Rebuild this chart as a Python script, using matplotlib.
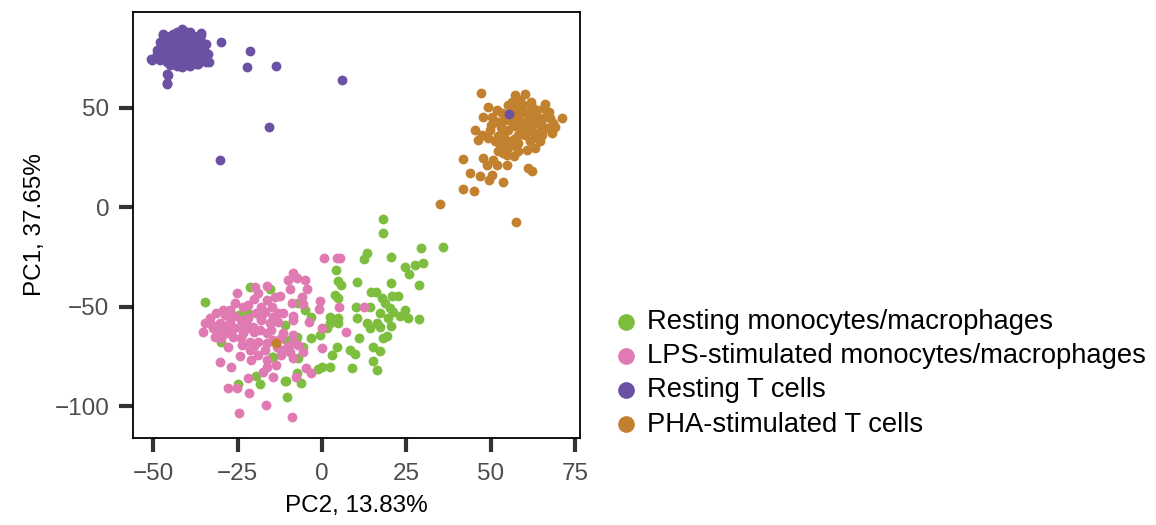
import matplotlib
matplotlib.use("Agg")
import matplotlib.pyplot as plt

plt.rcParams['font.family'] = ['Liberation Sans', 'DejaVu Sans']

# PCA coordinates (PC2 on x, PC1 on y)
rest_mono_x = [18.2, 18.2, 29.3, 35.8, 13.3, 12.5, 20.5, 24.6, 25.9, 27.6, 29.9, 28.8, 20.4, 4.1, 4.8, 5.8,
               10.5, 14.7, 16.0, 17.7, 18.7, 20.7, 22.7, 20.2, 21.2, 19.7, 23.3, 24.6, 25.6, 28.8, 17.2, 14.3,
               10.1, 10.5, 13.3, 14.3, 16.2, 17.2, 20.4, 3.9, 4.8, 2.4, 4.8, 2.4, 4.8, 1.6, -0.6, -3.3, 11.1,
               18.2, 19.2, 4.4, 3.1, 8.3, 9.8, 15.2, 17.2, 15.2, 16.4, 8.8, 2.4, -0.1, -1.1, -3.1, -5.0, -7.0,
               -7.5, -5.5, -7.0, -7.3, -11.0, -6.3, -11.0, -15.4, -14.9,
               -34.7, -21.4, -24.5, -21.9, -27.5, -29.8, -10.5, -14.4, -19.4, -18.4, -24.8, -10.7, -10.3]
rest_mono_y = [-6.2, -12.9, -20.8, -19.9, -23.3, -26.3, -25.0, -30.3, -33.7, -29.1, -28.3, -39.4, -38.0, -31.7,
               -37.0, -39.2, -37.5, -42.5, -42.5, -45.9, -48.4, -44.7, -44.7, -50.9, -52.6, -55.9, -54.8, -51.8,
               -55.9, -56.4, -53.4, -50.1, -50.1, -55.9, -58.5, -61.0, -58.5, -60.1, -59.6, -44.2, -45.9, -55.1,
               -55.9, -58.5, -58.5, -61.0, -64.3, -66.0, -66.0, -66.0, -64.8, -70.2, -74.4, -71.9, -73.9, -70.2,
               -72.2, -77.2, -81.9, -81.1, -80.6, -80.6, -81.6, -55.1, -51.8, -48.4, -65.5, -70.2, -76.0, -83.2,
               -87.3, -88.3, -59.3, -41.4, -75.2,
               -47.6, -40.0, -54.3, -53.4, -61.0, -67.7, -66.8, -75.5, -84.9, -88.9, -88.9, -87.3, -95.3]

lps_mono_x = [0.7, 4.4, 5.3, -8.7, -10.0, -7.5, -5.0, -9.3, -4.4, -12.5, -6.0, -0.6, -0.8, 5.1, 12.5, -9.0,
              -5.5, -11.5, -8.5, -3.8, -0.1, 7.1, -8.5, -11.5, -8.5, -7.0, -9.3, -5.5, -13.6, -4.6, -3.1, -7.7,
              -14.4, -8.5, -0.1, -12.0, -16.4, -17.4, -18.9, -21.4, -20.9, -24.3, -27.8, -30.3, -26.8, -21.9,
              -25.3, -27.8, -21.6, -16.6, -24.5, -9.0, -19.9, -16.4, -18.9, -16.4, -13.9, -14.9, -16.9, -12.9,
              -8.5, -14.4, -16.4, -18.4, -20.4, -22.4, -24.3, -27.3, -28.3, -26.3, -23.3, -21.4, -18.9, -25.3,
              -29.3, -31.3, -33.2, -34.7, -35.2, -32.2, -31.7, -29.8, -23.8, -17.9, -15.4, -19.4, -21.9, -25.8,
              -28.8, -30.3, -27.3, -23.3, -14.4, -16.4, -13.4, -12.0, -16.4,
              -26, -24, -22, -20, -18, -26, -24, -20, -17, -22, -20, -18, -15, -13, -29, -31, -33, -12, -10]
lps_mono_y = [-25.8, -25.8, -25.5, -33.0, -36.7, -35.8, -36.7, -41.4, -41.4, -44.7, -45.4, -47.1, -51.4, -50.4,
              -50.4, -48.4, -48.7, -53.4, -54.8, -57.6, -61.0, -62.6, -64.3, -63.1, -68.5, -69.3, -72.7, -72.7,
              -79.4, -81.1, -83.2, -85.6, -85.3, -76.0, -71.0, -71.9, -76.9, -82.7, -74.4, -71.9, -76.9, -74.9,
              -70.5, -77.7, -80.2, -86.1, -91.1, -91.1, -93.6, -99.5, -103.3, -105.7, -40.0, -39.7, -43.4, -46.7,
              -45.1, -50.1, -52.6, -53.4, -56.8, -66.8, -63.5, -61.8, -60.1, -58.5, -60.1, -57.6, -63.5, -65.2,
              -63.5, -67.7, -67.7, -43.4, -51.8, -53.4, -55.9, -58.5, -62.6, -61.0, -65.2, -66.0, -69.3, -55.9,
              -58.5, -53.4, -55.9, -48.4, -54.3, -58.5, -51.8, -50.1, -55.1, -68.5, -70.2, -74.4, -80.2,
              -55, -57, -61, -63, -57, -61, -66, -70, -72, -49, -46, -50, -62, -58, -60, -63, -59, -66, -70]

rest_t_x = [-29.9, -21.2, -22.3, -13.6, 6.0, -15.8, -30.1, -45.9, -45.9, -50.4, -47.2, -35.8, -33.6, -34.8,
            -47.1, -43.6, -41.6, -39.1, -37.6, -35.7, -34.2, -33.7, -34.2, -36.7, -39.6, -41.6, -45.1, -45.6,
            -45.8, -50.5, -48.5, -47.5, -44, -42, -40, -38, -46, -44, -42, -40, -38, -36, -45, -43, -41, -39,
            -37, -47, -44, -42, -40, -38, -43, -41, -45, -39, -37, -46, -48, -43, -41, -39, -44, -42, -40, -36,
            -35, -47, -48, -49, -45, -43, -41, -37, -39,
            -46, -44, -42, -40, -38, -36, -46, -44, -42, -40, -38, -36, -45, -43, -41, -39, -37, -47, -49,
            -48, -43, -40, -45, -35, -34, 55.5]
rest_t_y = [82.8, 78.5, 70.4, 70.7, 63.8, 40.1, 23.6, 62.3, 66.7, 73.7, 86.9, 87.3, 72.9, 81.8,
            86.6, 86.3, 89.3, 88.0, 85.5, 86.6, 82.1, 77.1, 72.9, 72.1, 71.2, 70.4, 71.2, 66.2,
            62.0, 74.2, 76.2, 81.3, 84, 83, 84, 82, 80, 79, 80, 79, 79, 80, 77, 76, 77, 76,
            76, 78, 74, 74, 73, 74, 82, 86, 83, 85, 83, 73, 74, 71, 81, 80, 87, 78, 76, 77,
            79, 84, 80, 77, 75, 79, 75, 74, 73,
            82, 81, 85, 82, 86, 84, 76, 77, 76, 78, 77, 75, 73, 73, 72, 71, 72, 75, 79,
            83, 88, 88, 86, 82, 77, 46.6]

pha_t_x = [47.2, 57.3, 60.2, 58.7, 56.3, 55.3, 59.7, 62.2, 63.7, 65.7, 67.2, 66.2, 67.6, 71.1, 68.6, 66.7,
           68.1, 65.2, 63.7, 64.7, 49.3, 51.8, 53.3, 47.8, 50.3, 52.3, 54.3, 56.3, 58.2, 59.7, 61.7, 61.2,
           59.2, 57.3, 55.3, 53.3, 52.3, 51.3, 52.8, 52.3, 53.8, 55.3, 56.8, 58.2, 60.2, 62.2, 61.7, 63.2,
           60.7, 58.2, 56.8, 54.8, 45.4, 47.4, 46.4, 49.3, 49.8, 47.8, 48.8, 50.8, 51.8, 54.8, 61.2, 62.2,
           43.9, 46.9, 50.3, 41.7, 41.7, 45.2, 49.6, 53.6, 35.0, 57.4,
           57, 60, 63, 65, 54, 57, 62, 58, 66, 69,
           55, 58, 61, 64, 56, 53, 60, 63, 58, 55, 50, 65, 57, 62]
pha_t_y = [57.1, 56.3, 56.6, 53.8, 53.0, 51.3, 51.3, 50.5, 48.8, 49.6, 48.0, 45.5, 44.6, 45.0, 42.1, 39.6,
           37.1, 36.3, 34.6, 33.0, 50.5, 48.8, 47.1, 45.5, 45.5, 43.0, 43.8, 43.0, 45.5, 43.0, 44.6, 40.5,
           39.6, 40.5, 38.8, 38.0, 35.5, 33.0, 31.3, 28.0, 27.1, 29.6, 31.3, 36.3, 36.3, 38.0, 33.0, 29.6,
           28.8, 28.0, 25.5, 26.3, 38.8, 36.3, 33.8, 34.6, 38.8, 24.6, 21.3, 23.8, 21.3, 21.3, 19.6, 18.0,
           17.1, 15.5, 16.3, 24.1, 9.2, 8.0, 13.6, 12.7, 1.4, -7.5,
           47, 48, 42, 40, 35, 34, 47, 50, 52, 40,
           46, 44, 47, 45, 50, 40, 40, 37, 32, 33, 41, 43, 53, 53]
# one PHA sample that lands inside the monocyte cloud
pha_stray_x = [-13.5]
pha_stray_y = [-68.5]

labels = ["Resting monocytes/macrophages", "LPS-stimulated monocytes/macrophages",
          "Resting T cells", "PHA-stimulated T cells"]
colors = ["#7DBE3F", "#E07AB2", "#6A51A3", "#C2812E"]

fig = plt.figure(figsize=(11.56, 5.25), dpi=100)
ax = fig.add_axes([0.115, 0.166, 0.387, 0.811])

sz = 50
ax.scatter(rest_mono_x, rest_mono_y, s=sz, color=colors[0], linewidths=0, label=labels[0])
ax.scatter(lps_mono_x, lps_mono_y, s=sz, color=colors[1], linewidths=0, label=labels[1])
ax.scatter(pha_t_x, pha_t_y, s=sz, color=colors[3], linewidths=0, label=labels[3])
ax.scatter(pha_stray_x, pha_stray_y, s=sz, color=colors[3], linewidths=0)
ax.scatter(rest_t_x, rest_t_y, s=sz, color=colors[2], linewidths=0, label=labels[2])

ax.set_xlim(-56, 76.6)
ax.set_ylim(-116, 98)
ax.set_xticks([-50, -25, 0, 25, 50, 75])
ax.set_yticks([-100, -50, 0, 50])
ax.set_xticklabels(["\u221250", "\u221225", "0", "25", "50", "75"])
ax.set_yticklabels(["\u2212100", "\u221250", "0", "50"])
ax.tick_params(length=10, width=3, color="#333333", labelcolor="#4D4D4D", labelsize=17.5, pad=8)
ax.tick_params(axis="y", pad=7)
for sp in ax.spines.values():
    sp.set_linewidth(1.3)
    sp.set_color("black")

ax.set_xlabel("PC2, 13.83%", fontsize=17.5, labelpad=7)
ax.set_ylabel("PC1, 37.65%", fontsize=17.5, labelpad=6)

h, l = ax.get_legend_handles_labels()
hd = {lab: hh for hh, lab in zip(h, l)}
fig.legend([hd[x] for x in labels], labels, loc="center left", bbox_to_anchor=(0.530, 0.289),
           frameon=False, fontsize=19.7, markerscale=1.7, handlelength=1.0, handletextpad=0.25,
           labelspacing=0.3, borderpad=0, borderaxespad=0)

fig.savefig("out.png", dpi=100)
